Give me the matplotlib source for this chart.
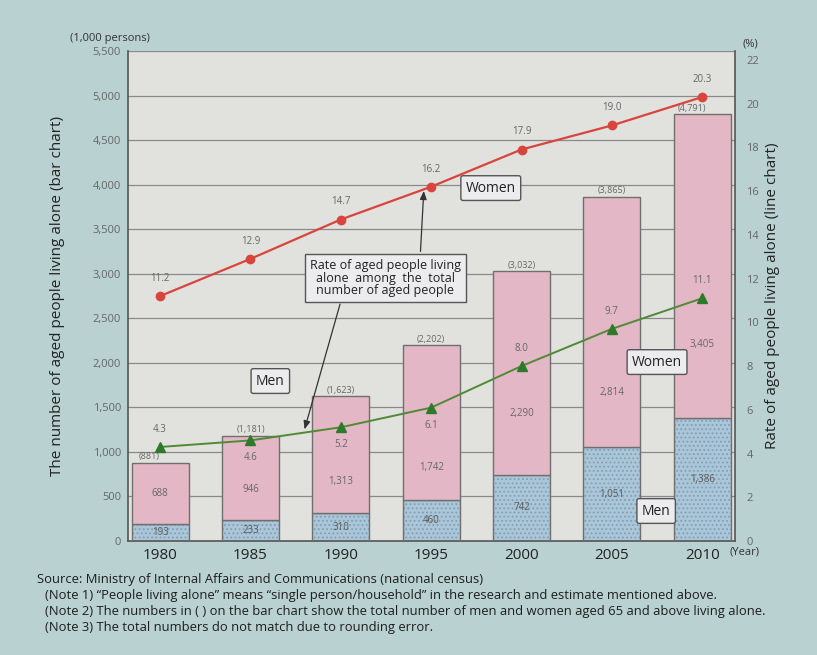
import matplotlib
matplotlib.use("Agg")
import matplotlib.pyplot as plt
import numpy as np

plt.rcParams['font.family'] = ['Open Sans', 'DejaVu Sans']
plt.rcParams['hatch.color'] = '#7f9fb4'
plt.rcParams['hatch.linewidth'] = 0.8

years = ['1980', '1985', '1990', '1995', '2000', '2005', '2010']
men = [193, 233, 310, 460, 742, 1051, 1386]
women = [688, 946, 1313, 1742, 2290, 2814, 3405]
totals = [881, 1181, 1623, 2202, 3032, 3865, 4791]
rate_women = [11.2, 12.9, 14.7, 16.2, 17.9, 19.0, 20.3]
rate_men = [4.3, 4.6, 5.2, 6.1, 8.0, 9.7, 11.1]

left_ticks = list(range(0, 5501, 500))
right_ticks = list(range(0, 23, 2))

# where the women count sits inside its segment (fraction of segment height)
women_label_frac = [0.5, 0.36, 0.27, 0.21, 0.30, 0.22, 0.24]
# men rate labels placed above (+1) or below (-1) the marker
men_label_side = [1, -1, -1, -1, 1, 1, 1]
# horizontal nudge for the bracketed totals
total_label_dx = [-0.12, 0, 0, 0, 0, 0, -0.12]

PAGE = '#b9d1d1'
PLOT_BG = '#e1e1de'
PINK = '#e4b7c7'
BLUE = '#abc6d8'
EDGE = '#6f6f70'
LABEL_GRAY = '#666666'

fig = plt.figure(figsize=(8.17, 6.55), dpi=100, facecolor=PAGE)
ax = fig.add_axes([0.1567, 0.174, 0.7433, 0.748])
ax.set_facecolor(PLOT_BG)

x = np.arange(len(years))
w = 0.63

ax.set_axisbelow(True)
ax.yaxis.grid(True, color='#8a8a8a', linewidth=0.9)
ax.bar(x, men, w, color=BLUE, edgecolor='#7f9fb4', linewidth=0,
       hatch='....', zorder=2)
ax.bar(x, men, w, color='none', edgecolor=EDGE, linewidth=1.0, zorder=3)
ax.bar(x, women, w, bottom=men, color=PINK, edgecolor=EDGE, linewidth=1.0,
       zorder=3)

ax.set_xlim(-0.355, 6.366)
ax.set_ylim(0, 5500)
ax.set_yticks(left_ticks)
ax.set_yticklabels([f'{v:,}' for v in left_ticks], fontsize=8, color=LABEL_GRAY)
ax.set_xticks(x)
ax.set_xticklabels(years, fontsize=11, color='#222222')
ax.tick_params(axis='both', length=0, pad=5)
for s in ['left', 'bottom', 'right']:
    ax.spines[s].set_color('#555555')
    ax.spines[s].set_linewidth(1.2)
ax.spines['top'].set_visible(False)

# value labels on the bars
for i in range(len(years)):
    ax.text(x[i], men[i] / 2, f'{men[i]:,}', ha='center', va='center',
            fontsize=7, color='#5a5a5a', zorder=5)
    ax.text(x[i], men[i] + women[i] * women_label_frac[i], f'{women[i]:,}',
            ha='center', va='center', fontsize=7, color=LABEL_GRAY, zorder=5)
    ax.text(x[i] + total_label_dx[i], totals[i] + 15, f'({totals[i]:,})',
            ha='center', va='bottom', fontsize=6.5, color=LABEL_GRAY, zorder=5)

ax2 = ax.twinx()
ax2.set_ylim(0, 22.4)
ax2.set_yticks(right_ticks)
ax2.set_yticklabels([str(v) for v in right_ticks], fontsize=8, color=LABEL_GRAY)
ax2.tick_params(axis='y', length=0, pad=8)
for s in ax2.spines.values():
    s.set_visible(False)

ax2.plot(x, rate_women, color='#d8453d', linewidth=1.6, marker='o',
         markersize=6, zorder=6)
ax2.plot(x, rate_men, color='#4f8a35', linewidth=1.4, marker='^',
         markersize=6.5, markerfacecolor='#2f7a2a', markeredgecolor='#2f7a2a',
         zorder=6)

for i in range(len(years)):
    ax2.text(x[i], rate_women[i] + 0.55, f'{rate_women[i]:.1f}', ha='center',
             va='bottom', fontsize=7, color=LABEL_GRAY, zorder=7)
    off = 0.55 if men_label_side[i] > 0 else -0.55
    ax2.text(x[i], rate_men[i] + off, f'{rate_men[i]:.1f}', ha='center',
             va='bottom' if men_label_side[i] > 0 else 'top', fontsize=7,
             color=LABEL_GRAY, zorder=7)

box_style = dict(boxstyle='round,pad=0.35,rounding_size=0.15',
                 facecolor='#ecebee', edgecolor='#555555', linewidth=1.0)

ax.text(3.66, 3962, 'Women', ha='center', va='center', fontsize=10,
        color='#222222', bbox=box_style, zorder=8)
ax.text(1.22, 1796, 'Men', ha='center', va='center', fontsize=10,
        color='#222222', bbox=box_style, zorder=8)
ax.text(5.5, 2009, 'Women', ha='center', va='center', fontsize=10,
        color='#222222', bbox=box_style, zorder=8)
ax.text(5.49, 337, 'Men', ha='center', va='center', fontsize=10,
        color='#222222', bbox=box_style, zorder=8)

ax.text(2.49, 2952, 'Rate of aged people living\nalone  among  the  total\nnumber of aged people',
        ha='center', va='center', fontsize=9, color='#222222', linespacing=0.95,
        bbox=dict(boxstyle='square,pad=0.4', facecolor='#ecebee',
                  edgecolor='#555555', linewidth=1.0), zorder=8)

arrow_props = dict(arrowstyle='-|>,head_length=0.5,head_width=0.2',
                   color='#333333', linewidth=0.9)
ax.annotate('', xy=(2.92, 3962), xytext=(2.88, 3220),
            arrowprops=arrow_props, zorder=8)
ax.annotate('', xy=(1.59, 1223), xytext=(2.0, 2690),
            arrowprops=arrow_props, zorder=8)

# unit captions and year marker
fig.text(110 / 817, 1 - 38 / 655, '(1,000 persons)', ha='center', va='center',
         fontsize=8, color='#333333')
fig.text(750 / 817, 1 - 44 / 655, '(%)', ha='center', va='center',
         fontsize=8, color='#333333')
fig.text(745 / 817, 1 - 552 / 655, '(Year)', ha='center', va='center',
         fontsize=8, color='#333333')

ax.set_ylabel('The number of aged people living alone (bar chart)',
              fontsize=11, color='#222222', labelpad=20)
ax2.set_ylabel('Rate of aged people living alone (line chart)',
               fontsize=11, color='#222222', labelpad=4)

notes = [
    (37, 580, 'Source: Ministry of Internal Affairs and Communications (national census)'),
    (45, 596, '(Note 1) \u201cPeople living alone\u201d means \u201csingle person/household\u201d in the research and estimate mentioned above.'),
    (45, 612, '(Note 2) The numbers in ( ) on the bar chart show the total number of men and women aged 65 and above living alone.'),
    (45, 628, '(Note 3) The total numbers do not match due to rounding error.'),
]
for px, py, t in notes:
    fig.text(px / 817, 1 - py / 655, t, ha='left', va='center', fontsize=9.35,
             color='#1e1e1e')

fig.savefig('out.png', dpi=100, facecolor=PAGE)
